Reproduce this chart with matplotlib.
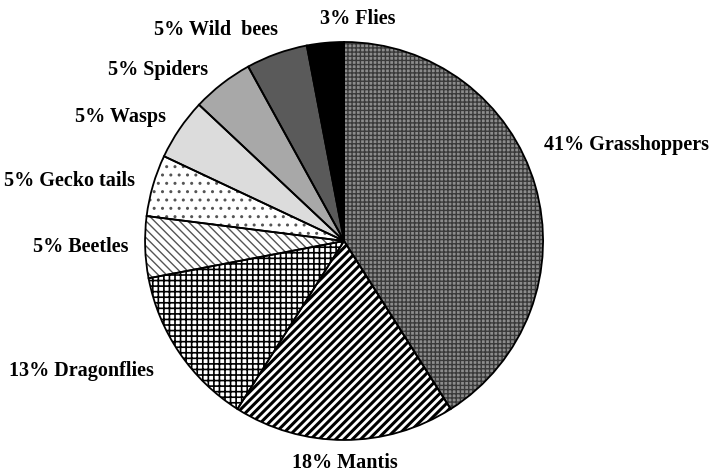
import matplotlib.pyplot as plt

labels = ["41% Grasshoppers", "18% Mantis", "13% Dragonflies", "5% Beetles",
          "5% Gecko tails", "5% Wasps", "5% Spiders", "5% Wild  bees", "3% Flies"]
values = [41, 18, 13, 5, 5, 5, 5, 5, 3]

fills = ["#8c8c8c", "white", "white", "white", "white", "#dcdcdc", "#a8a8a8", "#5a5a5a", "black"]
hatches = ["++++", "////", "+++", "\\\\\\\\", "..", None, None, None, None]
hatch_cols = ["#3a3a3a", "black", "black", "#555555", "#555555", "#dcdcdc", "#a8a8a8", "#5a5a5a", "black"]
hatch_lw = [1.0, 2.2, 1.2, 1.0, 1.0, 1.0, 1.0, 1.0, 1.0]

# label placement (pie units) and alignment
label_pos = [(1.005, 0.487), (0.005, -1.11), (-0.955, -0.648), (-1.085, -0.025),
             (-1.05, 0.307), (-0.894, 0.628), (-0.683, 0.864), (-0.332, 1.065), (-0.12, 1.12)]
label_ha = ["left", "center", "right", "right", "right", "right", "right", "right", "left"]

plt.rcParams["font.family"] = "Liberation Serif"
plt.rcParams["font.weight"] = "bold"
plt.rcParams["font.size"] = 14.5

fig = plt.figure(figsize=(7.14, 4.77), dpi=100)
ax = fig.add_axes([0.0, 0.0, 1.0, 1.0])

wedges, _ = ax.pie(values, startangle=90, counterclock=False, radius=1.0,
                   wedgeprops=dict(linewidth=0))
for w, f, h, hc, lw in zip(wedges, fills, hatches, hatch_cols, hatch_lw):
    w.set_facecolor(f)
    w.set_edgecolor(hc)
    w.set_hatch(h)
    if hasattr(w, "set_hatch_linewidth"):
        w.set_hatch_linewidth(lw)
    else:
        w._hatch_linewidth = lw

# outlines on top
ax.pie(values, startangle=90, counterclock=False, radius=1.0,
       wedgeprops=dict(fill=False, edgecolor="black", linewidth=1.3))

for lab, (x, y), ha in zip(labels, label_pos, label_ha):
    ax.text(x, y, lab, ha=ha, va="center")

ax.set_xlim(-1.729, 1.859)
ax.set_ylim(-1.181, 1.216)
ax.set_aspect("equal")
ax.axis("off")

fig.savefig("out.png", dpi=100)
